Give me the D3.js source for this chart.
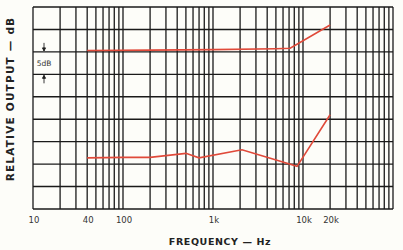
<!DOCTYPE html>
<html>
<head>
<meta charset="utf-8">
<script src="https://cdn.jsdelivr.net/npm/d3@7/dist/d3.min.js"></script>
<style>
 body { margin: 0; background: #fdfdf9; }
 svg { display: block; }
 .tick-label { font-family: "DejaVu Sans", sans-serif; font-size: 8.5px; fill: #333; }
 .title { font-family: "DejaVu Sans", sans-serif; font-size: 9.5px; font-weight: bold; fill: #222; letter-spacing: 0.6px; }
</style>
</head>
<body>
<svg id="chart" width="403" height="250"></svg>
<script>
 // frequency response
 var upperFreq = [40, 200, 1000, 5000, 7200, 20000];
 var upperDb   = [35.3, 35.4, 35.5, 35.7, 35.8, 41.0];

 var lowerFreq = [40, 100, 200, 500, 700, 2100, 8600, 20000];
 var lowerDb   = [11.4, 11.5, 11.5, 12.4, 11.4, 13.2, 9.5, 21.0];

 var tickFreqs  = [10, 40, 100, 1000, 10000, 20000];
 var tickLabels = ["10", "40", "100", "1k", "10k", "20k"];

 var svg = d3.select("#chart");

 var x = d3.scaleLog().domain([10, 100000]).range([33, 393]);
 var y = d3.scaleLinear().domain([0, 45]).range([209, 7]);

 // vertical grid: 1..9 in each decade
 var vlines = [];
 for (var d = 10; d < 100000; d *= 10) {
     for (var m = 1; m < 10; m++) vlines.push(d * m);
 }
 vlines.push(100000);

 var grid = svg.append("g").attr("stroke", "#1a1a1a");
 grid.selectAll("line.v").data(vlines).enter().append("line")
     .attr("class", "v")
     .attr("x1", function(f){ return x(f); })
     .attr("x2", function(f){ return x(f); })
     .attr("y1", y(45)).attr("y2", y(0))
     .attr("stroke-width", 1.3);

 grid.selectAll("line.h").data(d3.range(0, 46, 5)).enter().append("line")
     .attr("class", "h")
     .attr("x1", x(10)).attr("x2", x(100000))
     .attr("y1", function(v){ return y(v); })
     .attr("y2", function(v){ return y(v); })
     .attr("stroke-width", 1.4);

 // curves
 var line = d3.line()
     .x(function(p){ return x(p[0]); })
     .y(function(p){ return y(p[1]); });

 svg.append("path")
     .datum(d3.zip(upperFreq, upperDb))
     .attr("d", line)
     .attr("fill", "none")
     .attr("stroke", "#e04a3a")
     .attr("stroke-width", 1.6);

 svg.append("path")
     .datum(d3.zip(lowerFreq, lowerDb))
     .attr("d", line)
     .attr("fill", "none")
     .attr("stroke", "#e04a3a")
     .attr("stroke-width", 1.6);

 // tick labels
 svg.selectAll("text.tick-label").data(tickFreqs).enter().append("text")
     .attr("class", "tick-label")
     .attr("x", function(f){ return x(f) + 1; })
     .attr("y", 223)
     .attr("text-anchor", "middle")
     .text(function(f, i){ return tickLabels[i]; });

 // 5dB dimension mark
 var ax = 44;
 var mark = svg.append("g").attr("stroke", "#222").attr("fill", "#222");
 mark.append("line").attr("x1", ax).attr("x2", ax).attr("y1", y(35) - 9).attr("y2", y(35) - 1).attr("stroke-width", 0.9);
 mark.append("path").attr("d", "M" + (ax - 1.5) + "," + (y(35) - 4) + "L" + (ax + 1.5) + "," + (y(35) - 4) + "L" + ax + "," + (y(35) - 1) + "Z");
 mark.append("line").attr("x1", ax).attr("x2", ax).attr("y1", y(30) + 1).attr("y2", y(30) + 9).attr("stroke-width", 0.9);
 mark.append("path").attr("d", "M" + (ax - 1.5) + "," + (y(30) + 4) + "L" + (ax + 1.5) + "," + (y(30) + 4) + "L" + ax + "," + (y(30) + 1) + "Z");
 svg.append("text")
     .attr("class", "tick-label")
     .attr("x", ax).attr("y", (y(35) + y(30)) / 2 + 3)
     .attr("text-anchor", "middle")
     .style("font-size", "7.5px")
     .text("5dB");

 // axis titles
 svg.append("text")
     .attr("class", "title")
     .attr("x", 220).attr("y", 245)
     .attr("text-anchor", "middle")
     .text("FREQUENCY — Hz");

 svg.append("text")
     .attr("class", "title")
     .attr("transform", "translate(14,99) rotate(-90)")
     .attr("text-anchor", "middle")
     .style("font-size", "10.5px")
     .style("letter-spacing", "1.2px")
     .text("RELATIVE OUTPUT — dB");
</script>
</body>
</html>
